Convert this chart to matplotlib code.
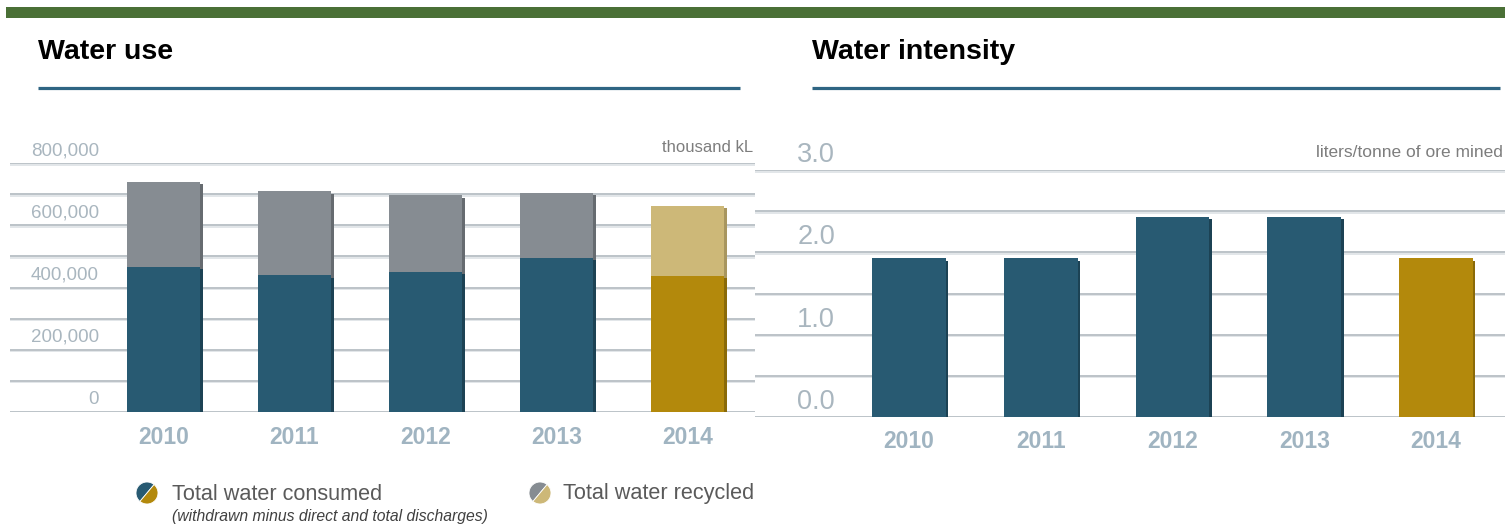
import matplotlib.pyplot as plt
import matplotlib.transforms as mtransforms
from matplotlib.patches import Rectangle, Wedge

years = ['2010', '2011', '2012', '2013', '2014']
consumed = [466000, 440000, 450000, 495000, 437000]
recycled = [273000, 270000, 247000, 209000, 225000]
intensity = [1.93, 1.93, 2.43, 2.43, 1.93]

use_ticks = [0, 200000, 400000, 600000, 800000]
use_grid = [0, 100000, 200000, 300000, 400000, 500000, 600000, 700000, 800000]
int_ticks = [0.0, 1.0, 2.0, 3.0]
int_grid = [0.0, 0.5, 1.0, 1.5, 2.0, 2.5, 3.0]

BLUE, BLUE_D = '#285a72', '#1c4254'
GRAY, GRAY_D = '#868c92', '#666b70'
GOLD, GOLD_D = '#b3890c', '#8a6a08'
SAND, SAND_D = '#cdb878', '#a8965f'
LABEL = '#a9b6bf'
YEAR = '#a0b4c1'

plt.rcParams['font.family'] = ['Liberation Sans', 'DejaVu Sans']

W, H = 1505, 525
fig = plt.figure(figsize=(W / 100, H / 100), dpi=100)


def px_rect(x0, y0, x1, y1):
    # pixel box (top-left origin) -> figure fraction rect
    return [x0 / W, 1 - y1 / H, (x1 - x0) / W, (y1 - y0) / H]


def shifted(ax, dx, dy):
    return ax.transData + mtransforms.ScaledTranslation(dx / 100, dy / 100, fig.dpi_scale_trans)


def draw_grid(ax, levels):
    # grey rule with a pale line just under it
    lower = mtransforms.blended_transform_factory(ax.transAxes, shifted(ax, 0, -1.5))
    upper = mtransforms.blended_transform_factory(ax.transAxes, ax.transData)
    for v in levels:
        ax.plot([0, 1], [v, v], color='#e2e6e9', lw=1.4, zorder=1, transform=lower)
        ax.plot([0, 1], [v, v], color='#bcc3c8', lw=1.4, zorder=1, transform=upper)


def draw_bars(ax, bottoms, heights, faces, shades, width):
    x = list(range(len(heights)))
    ax.bar(x, heights, width, bottom=bottoms, color=shades, zorder=2,
           transform=shifted(ax, 2.5, -2.5))
    ax.bar(x, heights, width, bottom=bottoms, color=faces, zorder=3)


def style_axes(ax, left, right):
    ax.set_facecolor('none')
    for s in ax.spines.values():
        s.set_visible(False)
    ax.set_xticks([])
    ax.set_yticks([])
    ax.set_xlim(left, right)


# decorations on a full-figure overlay in pixel units
deco = fig.add_axes([0, 0, 1, 1])
deco.set_xlim(0, W)
deco.set_ylim(0, H)
deco.axis('off')
deco.add_patch(Rectangle((6, H - 18), W - 6, 11, color='#4a7036', lw=0))
deco.plot([38, 740], [H - 88, H - 88], color='#2f6583', lw=2.3, solid_capstyle='butt')
deco.plot([812, 1500], [H - 88, H - 88], color='#2f6583', lw=2.3, solid_capstyle='butt')
fig.text(38 / W, 1 - 52 / H, 'Water use', fontsize=20.5, fontweight='bold', va='center', ha='left')
fig.text(812 / W, 1 - 52 / H, 'Water intensity', fontsize=20.5, fontweight='bold', va='center', ha='left')

# legend
for cx, c1, c2 in [(147, BLUE, GOLD), (540, GRAY, SAND)]:
    deco.add_patch(Wedge((cx, H - 493), 11, 50, 230, facecolor=c1, edgecolor='white', lw=0.6))
    deco.add_patch(Wedge((cx, H - 493), 11, 230, 410, facecolor=c2, edgecolor='white', lw=0.6))
fig.text(172 / W, 1 - 494 / H, 'Total water consumed', fontsize=15.6, color='#5a5a5a', va='center')
fig.text(172 / W, 1 - 516 / H, '(withdrawn minus direct and total discharges)', fontsize=11.3,
         style='italic', color='#404040', va='center')
fig.text(563 / W, 1 - 494 / H, 'Total water recycled', fontsize=15.6, color='#5a5a5a', va='center')

# Water use (stacked)
ax1 = fig.add_axes(px_rect(10, 163, 755, 412))
style_axes(ax1, -1.17, 4.515)
ax1.set_ylim(0, 800000)
draw_grid(ax1, use_grid)
blue_faces = [BLUE] * 4 + [GOLD]
blue_shades = [BLUE_D] * 4 + [GOLD_D]
top_faces = [GRAY] * 4 + [SAND]
top_shades = [GRAY_D] * 4 + [SAND_D]
draw_bars(ax1, [0] * 5, consumed, blue_faces, blue_shades, 0.56)
draw_bars(ax1, consumed, recycled, top_faces, top_shades, 0.56)
for v in use_ticks:
    ax1.annotate(f'{v:,}', xy=(0, v), xycoords=('axes fraction', 'data'), xytext=(89, 8),
                 textcoords='offset pixels', ha='right', va='baseline', fontsize=13.5, color=LABEL)
for i, y in enumerate(years):
    ax1.annotate(y, xy=(i, 0), xycoords=('data', 'axes fraction'), xytext=(0, -25),
                 textcoords='offset pixels', ha='center', va='center', fontsize=16.5,
                 fontweight='bold', color=YEAR)
fig.text(753 / W, 1 - 147 / H, 'thousand kL', fontsize=12, color='#7d7d7d', ha='right', va='center')

# Water intensity
ax2 = fig.add_axes(px_rect(755, 170, 1505, 417))
style_axes(ax2, -1.17, 4.524)
ax2.set_ylim(0, 3.0)
draw_grid(ax2, int_grid)
draw_bars(ax2, [0] * 5, intensity, blue_faces, blue_shades, 0.56)
for v in int_ticks:
    ax2.annotate(f'{v:.1f}', xy=(0, v), xycoords=('axes fraction', 'data'), xytext=(80, 8),
                 textcoords='offset pixels', ha='right', va='baseline', fontsize=19.5, color=LABEL)
for i, y in enumerate(years):
    ax2.annotate(y, xy=(i, 0), xycoords=('data', 'axes fraction'), xytext=(0, -25),
                 textcoords='offset pixels', ha='center', va='center', fontsize=16.5,
                 fontweight='bold', color=YEAR)
fig.text(1503 / W, 1 - 153 / H, 'liters/tonne of ore mined', fontsize=12.5, color='#7d7d7d',
         ha='right', va='center')

plt.savefig('out.png', dpi=100)
